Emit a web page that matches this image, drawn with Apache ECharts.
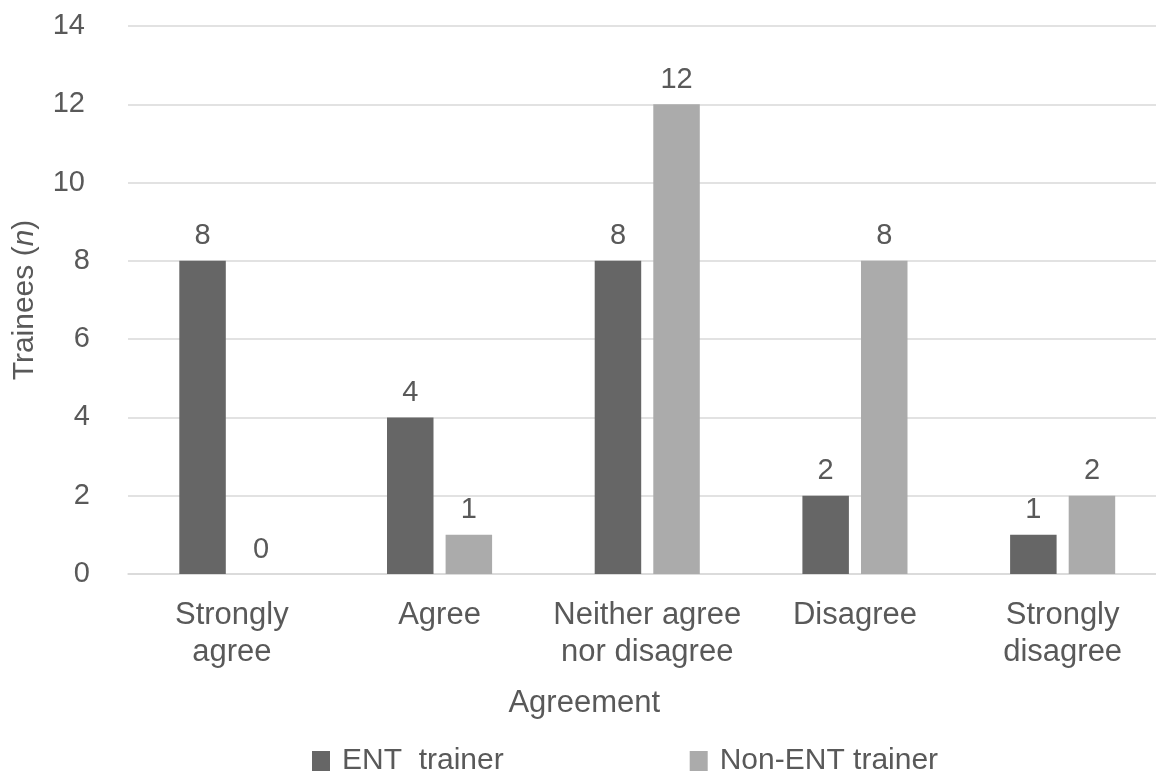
<!DOCTYPE html>
<html>
<head>
<meta charset="utf-8">
<script src="https://cdn.jsdelivr.net/npm/echarts@6/dist/echarts.min.js"></script>
<style>
  html, body { margin: 0; padding: 0; background: #ffffff; overflow: hidden; }
  /* plot area runs slightly past the right edge of the window */
  #chart { width: 1170px; height: 771px; }
</style>
</head>
<body>
<div id="chart"></div>
<script>
// Survey responses by agreement level
const categories = ['Strongly\nagree', 'Agree', 'Neither agree\nnor disagree', 'Disagree', 'Strongly\ndisagree'];
const entTrainer = [8, 4, 8, 2, 1];
const nonEntTrainer = [0, 1, 12, 8, 2];
const seriesNames = ['ENT  trainer', 'Non-ENT trainer'];
const yTicks = { min: 0, max: 14, interval: 2 };

const FONT = 'Liberation Sans, Arial, sans-serif';
const TEXT = '#595959';

const chart = echarts.init(document.getElementById('chart'));

const labelStyle = {
  show: true,
  position: 'top',
  distance: 10,
  color: TEXT,
  fontFamily: FONT,
  fontSize: 29
};

const tickText = { color: TEXT, fontFamily: FONT, fontSize: 29 };

chart.setOption({
  animation: false,
  backgroundColor: '#ffffff',
  grid: { left: 128, top: 26, width: 1038.5, height: 548, containLabel: false },
  xAxis: {
    type: 'category',
    data: categories,
    axisLine: { show: true, lineStyle: { color: '#d9d9d9', width: 1.5 } },
    axisTick: { show: false },
    axisLabel: {
      color: TEXT, fontFamily: FONT, fontSize: 31, lineHeight: 37,
      margin: 23, interval: 0
    },
    name: 'Agreement',
    nameLocation: 'middle',
    nameGap: 114,
    nameTextStyle: {
      color: TEXT, fontFamily: FONT, fontSize: 31,
      padding: [0, 126, 0, 0]
    }
  },
  yAxis: {
    type: 'value',
    min: yTicks.min,
    max: yTicks.max,
    interval: yTicks.interval,
    axisLine: { show: false },
    axisTick: { show: false },
    splitLine: { lineStyle: { color: '#d9d9d9', width: 1.5 } },
    axisLabel: {
      margin: 38,
      formatter: v => (v >= 10 ? '{w|' + v + '}' : '{s|' + v + '}'),
      rich: {
        w: Object.assign({ padding: [0, 5, 0, 0] }, tickText),
        s: Object.assign({}, tickText)
      }
    },
    name: '{t|Trainees (}{i|n}{t|)}',
    nameLocation: 'middle',
    nameGap: 88,
    nameRotate: 90,
    nameTextStyle: {
      rich: {
        t: { color: TEXT, fontFamily: FONT, fontSize: 30 },
        i: { color: TEXT, fontFamily: FONT, fontSize: 30, fontStyle: 'italic' }
      }
    }
  },
  legend: {
    top: 741,
    left: 307,
    itemWidth: 18,
    itemHeight: 20,
    itemGap: 186,
    icon: 'rect',
    textStyle: { color: TEXT, fontFamily: FONT, fontSize: 30, padding: [0, 0, 0, 7] },
    data: seriesNames
  },
  series: [
    {
      name: seriesNames[0],
      type: 'bar',
      data: entTrainer,
      barWidth: 46.5,
      barGap: '26%',
      itemStyle: { color: '#666666' },
      label: labelStyle
    },
    {
      name: seriesNames[1],
      type: 'bar',
      data: nonEntTrainer,
      barWidth: 46.5,
      barGap: '26%',
      itemStyle: { color: '#ababab' },
      label: labelStyle
    }
  ]
});
</script>
</body>
</html>
